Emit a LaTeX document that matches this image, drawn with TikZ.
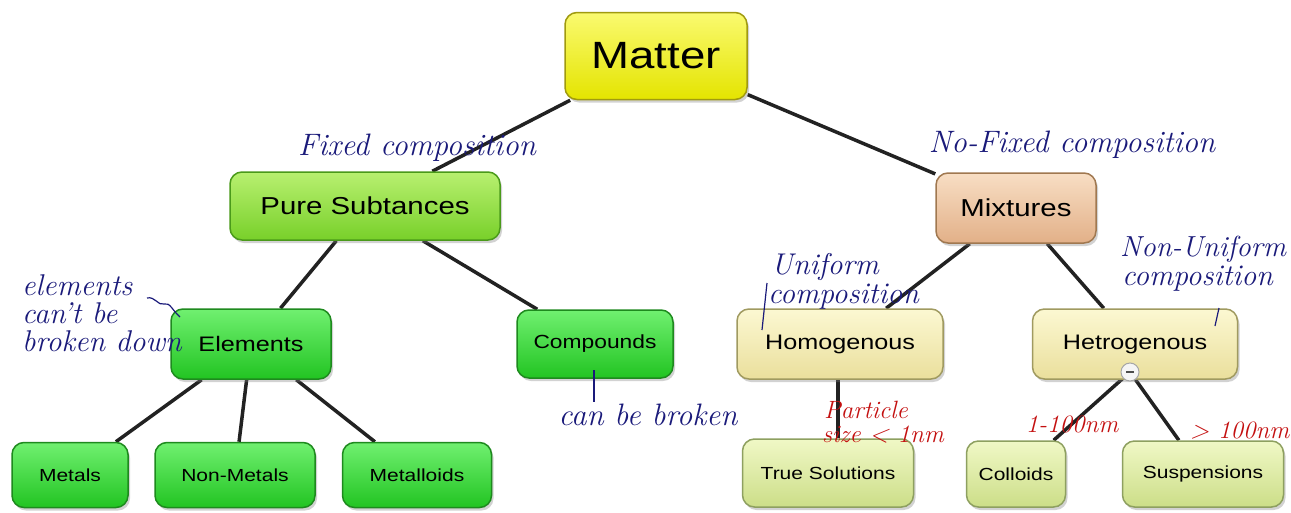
\documentclass[tikz,border=0pt]{standalone}
\usepackage{fontspec}
\newfontfamily\boxfont{Liberation Sans}[FakeStretch=1.2]
\usetikzlibrary{shadows,backgrounds}
\pgfdeclarelayer{canvas}
\pgfsetlayers{canvas,background,main}
\definecolor{matterTop}{HTML}{FAFA70}
\definecolor{matterBot}{HTML}{E4E400}
\definecolor{matterDraw}{HTML}{A09A10}
\definecolor{pureTop}{HTML}{B8F070}
\definecolor{pureBot}{HTML}{78D02A}
\definecolor{pureDraw}{HTML}{4A9A1A}
\definecolor{grnTop}{HTML}{70F070}
\definecolor{grnBot}{HTML}{22C422}
\definecolor{grnDraw}{HTML}{1E8A1E}
\definecolor{mixTop}{HTML}{F8DEC4}
\definecolor{mixBot}{HTML}{E2B088}
\definecolor{mixDraw}{HTML}{A07850}
\definecolor{homTop}{HTML}{FCF8D2}
\definecolor{homBot}{HTML}{EADF9C}
\definecolor{homDraw}{HTML}{A09A60}
\definecolor{solTop}{HTML}{F0F8C6}
\definecolor{solBot}{HTML}{CCDE88}
\definecolor{solDraw}{HTML}{8EA060}
\definecolor{pen}{HTML}{1A1A7A}
\definecolor{redpen}{HTML}{C41010}
\definecolor{conncol}{HTML}{222222}
\tikzset{
  box/.style={draw, rounded corners=12pt, line width=1.5pt, align=center, inner sep=0pt,
    drop shadow={shadow xshift=2pt,shadow yshift=-3pt,opacity=0.35}},
  mattbox/.style={box, top color=matterTop, bottom color=matterBot, draw=matterDraw,
    font=\boxfont\fontsize{38}{42}\selectfont},
  purebox/.style={box, top color=pureTop, bottom color=pureBot, draw=pureDraw,
    font=\boxfont\fontsize{24.5}{28}\selectfont},
  mixbox/.style={box, top color=mixTop, bottom color=mixBot, draw=mixDraw,
    font=\boxfont\fontsize{24.5}{28}\selectfont},
  grnbox/.style={box, top color=grnTop, bottom color=grnBot, draw=grnDraw,
    font=\boxfont\fontsize{21}{24}\selectfont},
  hombox/.style={box, top color=homTop, bottom color=homBot, draw=homDraw,
    font=\boxfont\fontsize{21}{24}\selectfont},
  leafgrn/.style={box, top color=grnTop, bottom color=grnBot, draw=grnDraw,
    font=\boxfont\fontsize{17.5}{20}\selectfont},
  leafsol/.style={box, top color=solTop, bottom color=solBot, draw=solDraw,
    font=\boxfont\fontsize{17.5}{20}\selectfont},
  conn/.style={draw=conncol, line width=3.5pt},
  note/.style={text=pen, inner sep=0pt, font=\itshape\fontsize{31}{27.5}\selectfont},
  midnote/.style={note, font=\itshape\fontsize{30}{27.5}\selectfont},
  rednote/.style={text=redpen, inner sep=0pt, font=\itshape\fontsize{25}{22}\selectfont},
  penline/.style={draw=pen, line width=1.2pt},
}
\begin{document}
\begin{tikzpicture}[x=1pt,y=-1pt]
\begin{pgfonlayer}{canvas}
\fill[white] (0,0) rectangle (1291,512);
\end{pgfonlayer}
\useasboundingbox (0,0) rectangle (1291,512);

% boxes
\node[mattbox, minimum width=182pt, minimum height=87pt] (matter) at (656,56) {Matter};
\node[purebox, minimum width=270pt, minimum height=68pt] (pure) at (365,206) {Pure Subtances};
\node[mixbox, minimum width=160pt, minimum height=70pt] (mix) at (1016,208) {Mixtures};
\node[grnbox, minimum width=160pt, minimum height=70pt] (elem) at (251,344) {Elements};
\node[grnbox, font=\boxfont\fontsize{19}{22}\selectfont, minimum width=156pt, minimum height=68pt] (comp) at (595,344) {Compounds};
\node[hombox, minimum width=206pt, minimum height=70pt] (homo) at (840,344) {Homogenous};
\node[hombox, minimum width=205pt, minimum height=70pt] (hetero) at (1135,344) {Hetrogenous};
\node[leafgrn, minimum width=116pt, minimum height=65pt] (metals) at (70,475) {Metals};
\node[leafgrn, minimum width=160pt, minimum height=65pt] (nonmet) at (235,475) {Non-Metals};
\node[leafgrn, minimum width=149pt, minimum height=65pt] (metalloid) at (417,475) {Metalloids};
\node[leafsol, minimum width=171pt, minimum height=68pt] (tsol) at (828,473) {True Solutions};
\node[leafsol, minimum width=99pt, minimum height=66pt] (coll) at (1016,474) {Colloids};
\node[leafsol, minimum width=161pt, minimum height=66pt] (susp) at (1203,474) {Suspensions};
\node[circle, draw=gray!70, line width=1pt, fill=gray!8, minimum size=18pt, inner sep=0pt] (minus) at (1130,372) {};
\draw[line width=2pt, gray!60!black] ([xshift=-4pt]minus.center) -- ([xshift=4pt]minus.center);

% connectors
\begin{pgfonlayer}{background}
\draw[conn] (matter) -- (pure);
\draw[conn] (matter) -- (mix);
\draw[conn] (pure) -- (elem);
\draw[conn] (pure) -- (comp);
\draw[conn] (mix) -- (homo);
\draw[conn] (mix) -- (hetero);
\draw[conn] (elem) -- (metals);
\draw[conn] (elem) -- (nonmet);
\draw[conn] (elem) -- (metalloid);
\draw[conn] ([xshift=10pt]tsol.north) -- ([xshift=10pt]tsol.north |- homo.south);
\draw[conn] (minus) -- (coll);
\draw[conn] (minus) -- (susp);
\end{pgfonlayer}

% annotations
\node[note, anchor=base] (fixed) at (417,155) {Fixed composition};
\node[note, anchor=base] (nofixed) at (1072,152) {No-Fixed composition};
\node[note, font=\itshape\fontsize{30}{28}\selectfont, anchor=base west, align=left] (elnote) at (22,351) {elements\\can't be\\broken down};
\coordinate (tilA) at (147,298);
\coordinate (tilB) at (180,317);
\draw[penline] (tilA) .. controls (155,296) and (158,306) .. (164,304) .. controls (170,302) and (172,310) .. (tilB);
\node[midnote, anchor=base west] (unif) at (771,274) {Uniform};
\node[midnote, anchor=base west] (unifc) at (768,303) {composition};
\coordinate (slA) at (767,283);
\coordinate (slB) at (762,330);
\draw[penline] (slA) -- (slB);
\node[midnote, font=\itshape\fontsize{29}{27.5}\selectfont, anchor=base west] (nonu) at (1120,256) {Non-Uniform};
\node[midnote, anchor=base west] (nonuc) at (1122,285) {composition};
\coordinate (sl2A) at (1219,308);
\coordinate (sl2B) at (1215,326);
\draw[penline] (sl2A) -- (sl2B);
\node[note, anchor=base] (canbe) at (648,425) {can be broken};
\coordinate (tickA) at (594,370);
\coordinate (tickB) at (594,402);
\draw[penline] (tickA) -- (tickB);
\node[rednote, anchor=base west] (part) at (824,418) {Particle};
\node[rednote, anchor=base west] (psize) at (822,442) {size < 1nm};
\node[rednote, anchor=base] (r1) at (1072,432) {1-100nm};
\node[rednote, anchor=base west] (r2) at (1190,438) {> 100nm};
\end{tikzpicture}
\end{document}
